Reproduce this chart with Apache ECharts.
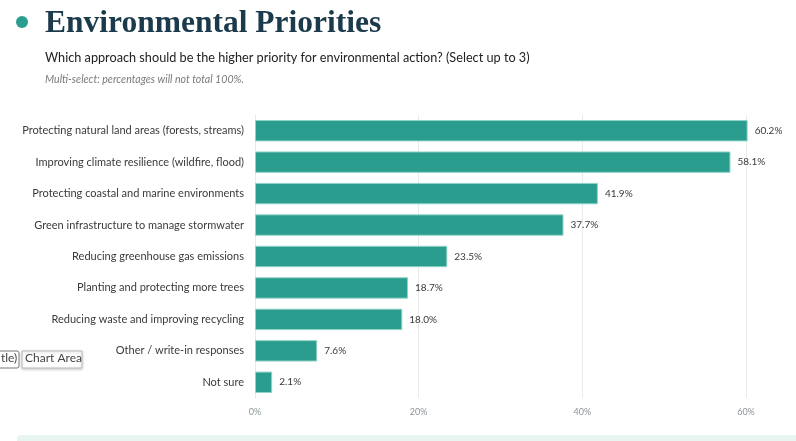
<!DOCTYPE html>
<html><head><meta charset="utf-8">
<script src="https://cdn.jsdelivr.net/npm/echarts@6/dist/echarts.min.js"></script>
<style>html,body{margin:0;padding:0;background:#fff}#c{width:796px;height:441px}</style>
</head><body><div id="c"></div>
<script>
const categories = [
  "Protecting natural land areas (forests, streams)",
  "Improving climate resilience (wildfire, flood)",
  "Protecting coastal and marine environments",
  "Green infrastructure to manage stormwater",
  "Reducing greenhouse gas emissions",
  "Planting and protecting more trees",
  "Reducing waste and improving recycling",
  "Other / write-in responses",
  "Not sure"
];
const values = [60.2, 58.1, 41.9, 37.7, 23.5, 18.7, 18.0, 7.6, 2.1];
const tickValues = [0, 20, 40, 60];

const chart = echarts.init(document.getElementById('c'), null, {renderer: 'canvas'});
chart.setOption({
  animation: false,
  backgroundColor: '#ffffff',
  grid: {left: 255, right: 50, top: 115, bottom: 43, containLabel: false},
  xAxis: {
    type: 'value', min: 0, max: 60, interval: 20,
    axisLine: {show: false}, axisTick: {show: false},
    splitLine: {show: true, lineStyle: {color: '#e6ebec', width: 1}},
    axisLabel: {formatter: v => tickValues.includes(v) ? v + '%' : '', color: '#8a9599',
      fontFamily: 'Lato', fontSize: 9, margin: 10}
  },
  yAxis: {
    type: 'category', data: categories, inverse: true,
    axisLine: {show: true, lineStyle: {color: '#e6ebec'}}, axisTick: {show: false},
    axisLabel: {color: '#3a3a3a', fontFamily: 'Lato', fontSize: 11, margin: 11}
  },
  series: [{
    type: 'bar', data: values, barWidth: '68%', clip: false,
    itemStyle: {color: '#2a9d8f', borderColor: '#8fd3c8', borderWidth: 1},
    label: {show: true, position: 'right', distance: 7, formatter: p => p.value.toFixed(1) + '%',
      color: '#3a3a3a', fontFamily: 'Lato', fontSize: 10}
  }],
  graphic: [
    {type: 'circle', shape: {cx: 22, cy: 22, r: 6}, style: {fill: '#2a9d8f'}},
    {type: 'text', left: 45, top: 8, style: {text: 'Environmental Priorities', fill: '#1b3a4b',
      font: 'bold 31.5px "Liberation Serif"'}},
    {type: 'text', left: 45, top: 51, style: {text: 'Which approach should be the higher priority for environmental action? (Select up to 3)',
      fill: '#222222', font: '12.7px Lato'}},
    {type: 'text', left: 45, top: 74, style: {text: 'Multi-select: percentages will not total 100%.',
      fill: '#7a7a7a', font: 'italic 10.6px Lato'}},
    {type: 'rect', shape: {x: 17, y: 435, width: 790, height: 10, r: 4}, style: {fill: '#e8f4f0'}},
    {type: 'rect', shape: {x: -6, y: 351, width: 25, height: 17, r: 2}, style: {fill: '#ffffff', stroke: '#777777', lineWidth: 1}},
    {type: 'text', left: -2, top: 352, style: {text: 'itle)', fill: '#444444', font: '12px Lato'}},
    {type: 'rect', shape: {x: 22, y: 351, width: 60, height: 17}, style: {fill: '#ffffff', stroke: '#bbbbbb', lineWidth: 1,
      shadowBlur: 3, shadowColor: 'rgba(0,0,0,0.2)', shadowOffsetY: 1}},
    {type: 'text', left: 25, top: 352, style: {text: 'Chart Area', fill: '#444444', font: '12px Lato'}}
  ]
});
</script></body></html>
